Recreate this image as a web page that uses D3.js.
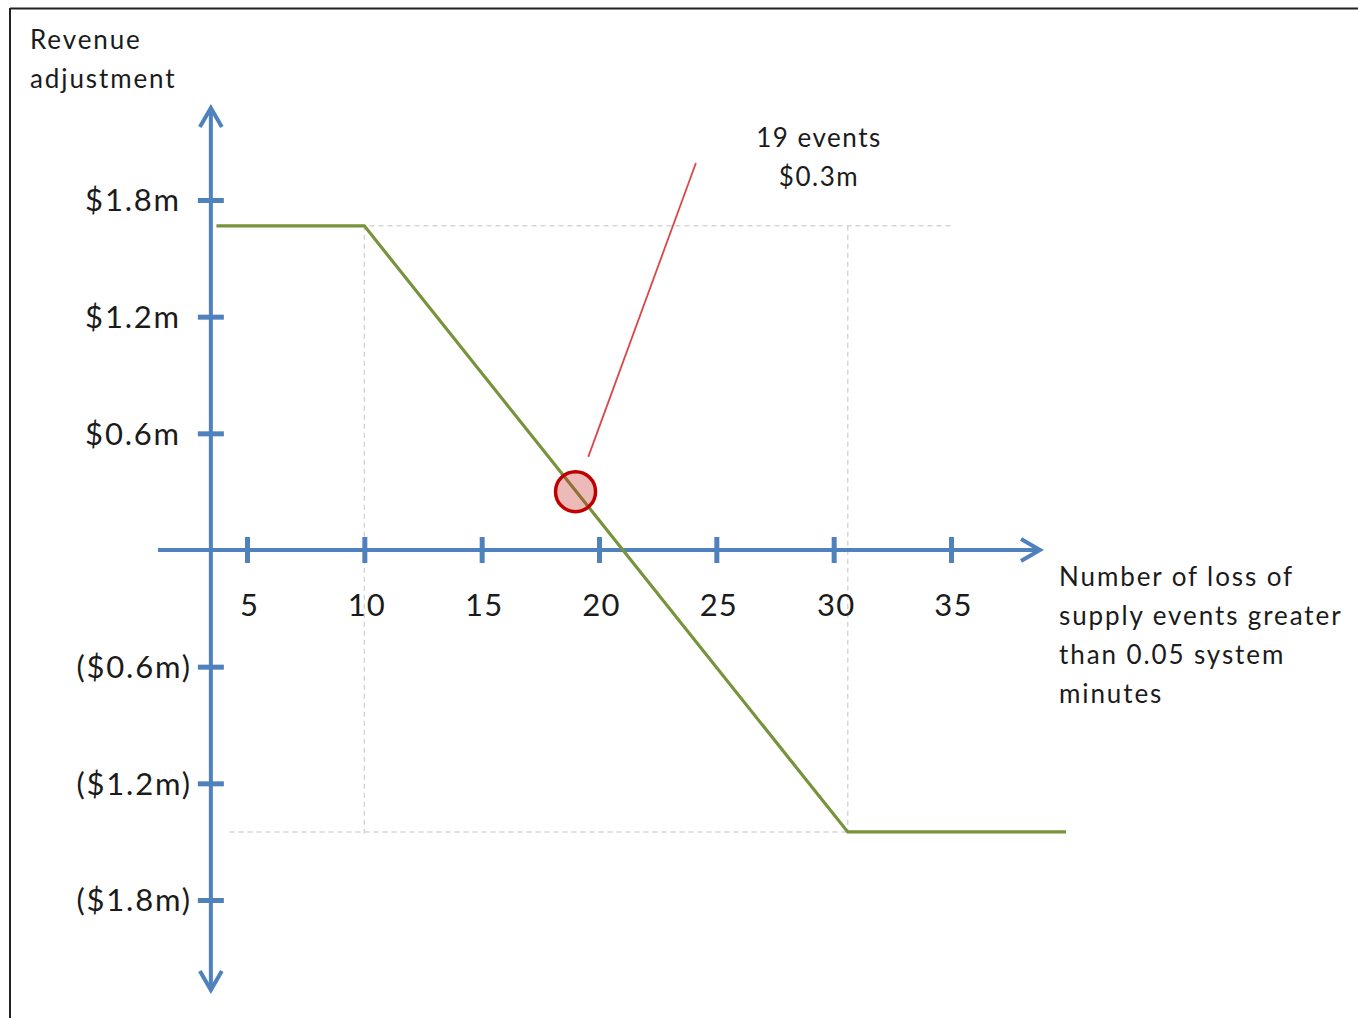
<!DOCTYPE html>
<html>
<head>
<meta charset="utf-8">
<script src="https://cdn.jsdelivr.net/npm/d3@7"></script>
<style>
  html, body { margin: 0; padding: 0; background: #fff; }
  svg { display: block; }
  text { font-family: Lato, "Open Sans", sans-serif; fill: #1b1b1b; }
</style>
</head>
<body>
<script>
// Revenue adjustment schedule: events count (x) vs adjustment in $m (y)
const xTicks = [5, 10, 15, 20, 25, 30, 35];
const xTickLabels = ["5", "10", "15", "20", "25", "30", "35"];
const yTicks = [1.8, 1.2, 0.6, -0.6, -1.2, -1.8];
const yTickLabels = ["$1.8m", "$1.2m", "$0.6m", "($0.6m)", "($1.2m)", "($1.8m)"];

// piecewise schedule: cap, linear slope, collar
const scheduleEvents = [3.7, 10, 30.6, 39.9];
const scheduleAdjust = [1.667, 1.667, -1.45, -1.45];

// highlighted outcome
const markerEvents = 19;
const markerAdjust = 0.3;
const markerLabel = ["19 events", "$0.3m"];

const yTitle = ["Revenue", "adjustment"];
const xTitle = ["Number of loss of", "supply events greater", "than 0.05 system", "minutes"];

const W = 1358, H = 1018;
const axisBlue = "#4f81bd";
const lineGreen = "#77933c";
const gridGrey = "#d6d6d6";

const svg = d3.select("body").append("svg").attr("width", W).attr("height", H);

const x = d3.scaleLinear().domain([5, 35]).range([247, 951]);
const y = d3.scaleLinear().domain([-1.8, 1.8]).range([900, 200]);

const axisXpos = x(3.46);   // where the vertical axis crosses
const axisYpos = y(0);

// frame lines (top and left)
svg.append("line").attr("x1", 10).attr("x2", W).attr("y1", 8.5).attr("y2", 8.5)
  .attr("stroke", "#222").attr("stroke-width", 2);
svg.append("line").attr("x1", 10).attr("x2", 10).attr("y1", 8).attr("y2", H)
  .attr("stroke", "#222").attr("stroke-width", 2);

// dashed guide lines at the schedule kinks
const grid = svg.append("g").attr("stroke", gridGrey).attr("stroke-width", 1.5)
  .attr("stroke-dasharray", "5,4").attr("fill", "none");
grid.append("line").attr("x1", x(scheduleEvents[1])).attr("x2", x(scheduleEvents[1]))
  .attr("y1", y(scheduleAdjust[1])).attr("y2", y(scheduleAdjust[2]) + 6);
grid.append("line").attr("x1", x(scheduleEvents[2])).attr("x2", x(scheduleEvents[2]))
  .attr("y1", y(scheduleAdjust[1])).attr("y2", y(scheduleAdjust[2]));
grid.append("line").attr("x1", x(scheduleEvents[0])).attr("x2", x(35))
  .attr("y1", y(scheduleAdjust[1])).attr("y2", y(scheduleAdjust[1]));
grid.append("line").attr("x1", x(scheduleEvents[0]) + 13).attr("x2", x(scheduleEvents[2]))
  .attr("y1", y(scheduleAdjust[2])).attr("y2", y(scheduleAdjust[2]));

// axes with arrowheads
const axes = svg.append("g").attr("stroke", axisBlue).attr("stroke-width", 4)
  .attr("fill", "none").attr("stroke-linecap", "butt");
const yTop = 108, yBottom = 990, xLeft = 158, xRight = 1040;
axes.append("line").attr("x1", axisXpos).attr("x2", axisXpos).attr("y1", yTop + 2).attr("y2", yBottom - 2);
axes.append("line").attr("x1", xLeft).attr("x2", xRight - 2).attr("y1", axisYpos).attr("y2", axisYpos);
const ah = 11, al = 19;
axes.append("path").attr("d", `M${axisXpos - ah},${yTop + al} L${axisXpos},${yTop} L${axisXpos + ah},${yTop + al}`);
axes.append("path").attr("d", `M${axisXpos - ah},${yBottom - al} L${axisXpos},${yBottom} L${axisXpos + ah},${yBottom - al}`);
axes.append("path").attr("d", `M${xRight - al},${axisYpos - ah} L${xRight},${axisYpos} L${xRight - al},${axisYpos + ah}`);

// x ticks and labels
const xAxis = d3.axisBottom(x).tickValues(xTicks).tickSize(13)
  .tickFormat((d, i) => xTickLabels[i]);
const gx = svg.append("g").attr("transform", `translate(0,${axisYpos})`).call(xAxis);
gx.select(".domain").remove();
gx.selectAll(".tick line").attr("y1", -13).attr("y2", 13)
  .attr("stroke", axisBlue).attr("stroke-width", 5);
gx.selectAll(".tick text").attr("y", 66).attr("dy", null).attr("dx", 2)
  .attr("font-size", 31).attr("letter-spacing", 1.2)
  .attr("font-family", "Lato, sans-serif").attr("fill", "#1b1b1b");

// y ticks and labels
const yAxis = d3.axisLeft(y).tickValues(yTicks).tickSize(13)
  .tickFormat((d, i) => yTickLabels[i]);
const gy = svg.append("g").attr("transform", `translate(${axisXpos},0)`).call(yAxis);
gy.select(".domain").remove();
gy.selectAll(".tick line").attr("x1", -13).attr("x2", 13)
  .attr("stroke", axisBlue).attr("stroke-width", 5);
gy.selectAll(".tick text")
  .attr("x", d => d < 0 ? -19 : -30).attr("dy", "0.35em")
  .attr("font-size", 31).attr("letter-spacing", 1.8)
  .attr("font-family", "Lato, sans-serif").attr("fill", "#1b1b1b");

// schedule line
const pts = scheduleEvents.map((e, i) => [e, scheduleAdjust[i]]);
svg.append("path")
  .attr("d", d3.line().x(d => x(d[0])).y(d => y(d[1]))(pts))
  .attr("fill", "none").attr("stroke", lineGreen).attr("stroke-width", 3.2)
  .attr("stroke-linejoin", "miter");

// highlighted marker with leader and label
const mx = x(markerEvents), my = y(markerAdjust);
const labelX = 819;
const leaderEnd = [x(24.13), y(1.99)];
const dx = leaderEnd[0] - mx, dy = leaderEnd[1] - my;
const dist = Math.hypot(dx, dy);
const gap = 37;
svg.append("line")
  .attr("x1", mx + dx / dist * gap).attr("y1", my + dy / dist * gap)
  .attr("x2", leaderEnd[0]).attr("y2", leaderEnd[1])
  .attr("stroke", "#d9474a").attr("stroke-width", 1.8);
svg.append("circle").attr("cx", mx).attr("cy", my).attr("r", 20)
  .attr("fill", "rgba(200,40,40,0.32)").attr("stroke", "#c00000").attr("stroke-width", 3.5);

svg.append("g").selectAll("text").data(markerLabel).join("text")
  .attr("x", labelX).attr("y", (d, i) => 147 + i * 39)
  .attr("text-anchor", "middle").attr("font-size", 26).attr("letter-spacing", 1.5)
  .text(d => d);

// axis titles
svg.append("g").selectAll("text").data(yTitle).join("text")
  .attr("x", 30).attr("y", (d, i) => 49 + i * 39)
  .attr("font-size", 26).attr("letter-spacing", 1.9).text(d => d);
svg.append("g").selectAll("text").data(xTitle).join("text")
  .attr("x", 1059).attr("y", (d, i) => 586 + i * 39)
  .attr("font-size", 26).attr("letter-spacing", 1.9).text(d => d);
</script>
</body>
</html>
